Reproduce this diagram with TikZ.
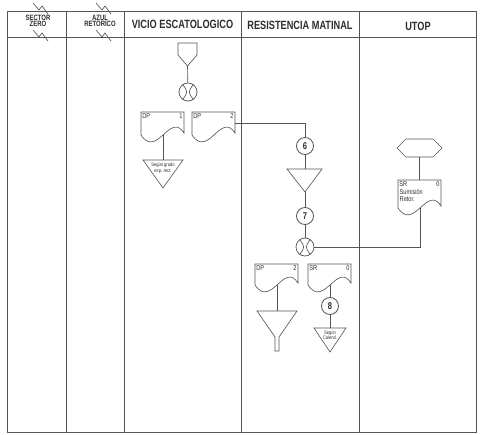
\documentclass[tikz,border=0pt]{standalone}
\usepackage{fontspec}
\usepackage{tikz}
\usetikzlibrary{calc}
\setmainfont{Liberation Sans}
\newfontfamily\headfont[FakeStretch=0.77]{Liberation Sans}
\newfontfamily\tagfont[FakeStretch=0.8]{Liberation Sans}
\definecolor{inkgray}{HTML}{2E2E2E}
\definecolor{rulegray}{HTML}{555555}

% document symbol: name, left x, top y, body height
\newcommand{\docsym}[4]{%
  \node[docbox, minimum height=#4*0.025cm] (#1) at (#2+21.5,#3+#4/2) {};
  \draw[flow] (#2,#3) -- ++(43,0) -- ++(0,#4-2)
    .. controls +(-14,-22) and +(16,24) .. (#2,#3+#4) -- cycle;
  \coordinate (#1b) at (#2+22,#3+#4);
}
% crossing arcs inside a merge circle
\newcommand{\mergex}[1]{%
  \draw[flow] (#1.125) .. controls (#1.center) and (#1.center) .. (#1.235);
  \draw[flow] (#1.55) .. controls (#1.center) and (#1.center) .. (#1.305);
}

\begin{document}
\begin{tikzpicture}[x=0.025cm, y=-0.025cm,
  rule/.style={draw=rulegray, line width=0.6pt},
  flow/.style={draw=rulegray, line width=0.45pt},
  docbox/.style={inner sep=0pt, minimum width=43*0.025cm},
  numcirc/.style={circle, draw=rulegray, line width=0.6pt, inner sep=0pt,
    minimum size=17*0.025cm, text=inkgray,
    font=\headfont\bfseries\fontsize{7}{7}\selectfont},
  mergecirc/.style={circle, draw=rulegray, line width=0.5pt, inner sep=0pt,
    minimum size=18*0.025cm},
  lanehead/.style={text=inkgray, font=\headfont\bfseries\fontsize{8.5}{9}\selectfont},
  smallhead/.style={text=inkgray, align=center, inner sep=0pt,
    font=\headfont\bfseries\fontsize{5.5}{4.5}\selectfont},
  tag/.style={text=inkgray, inner sep=1pt, font=\tagfont\fontsize{5}{5}\selectfont},
  note/.style={text=inkgray, align=center, inner sep=0pt,
    font=\tagfont\fontsize{3.6}{4}\selectfont}]
  \useasboundingbox[fill=white] (0,0) rectangle (480,434);

  % lanes
  \draw[rule] (7,11) rectangle (476,432);
  \draw[rule] (7,37) -- (476,37);
  \foreach \x in {66,124,241,359} \draw[rule] (\x,11) -- (\x,432);
  \foreach \x in {40,103} {
    \draw[flow] (\x-7,3) -- (\x-1,10) -- (\x+2,6) -- (\x+8,14);
    \draw[flow] (\x-7,30) -- (\x-1,37) -- (\x+2,33) -- (\x+8,41);
  }
  \node[smallhead] (hsz) at (38,21) {SECTOR\\ZERO};
  \node[smallhead] (haz) at (100,21) {AZUL\\RETORICO};
  \node[lanehead] (hve) at (182.5,24) {VICIO ESCATOLOGICO};
  \node[lanehead] (hrm) at (300,25) {RESISTENCIA MATINAL};
  \node[lanehead] (hut) at (418,26) {UTOP};

  % vicio escatologico
  \draw[flow] (178,43) -- (197,43) -- (197,55) -- (187.5,66) -- (178,55) -- cycle;
  \coordinate (offp) at (187.5,66);
  \node[mergecirc] (mg1) at (188,92) {};
  \mergex{mg1}
  \draw[flow] (offp) -- (mg1);

  \docsym{dp1}{141}{112}{23}
  \node[tag, anchor=north west] (dp1l) at (dp1.north west) {DP};
  \node[tag, anchor=north east] (dp1r) at (dp1.north east) {1};
  \docsym{dp2}{192}{112}{23}
  \node[tag, anchor=north west] (dp2l) at (dp2.north west) {DP};
  \node[tag, anchor=north east] (dp2r) at (dp2.north east) {2};

  \draw[flow] (143,160) -- (183,160) -- (163,188) -- cycle;
  \coordinate (tri1) at (163,160);
  \node[note] (tri1t) at (163,168) {Según grado\\esp. rect.};
  \draw[flow] (dp1b) -- (tri1);

  % resistencia matinal
  \node[numcirc] (c6) at (305,146) {6};
  \draw[flow] (dp2.east) -| (c6);
  \draw[flow] (287,169) -- (322,169) -- (305,192) -- cycle;
  \coordinate (tri2) at (305,169);
  \coordinate (tri2p) at (305,192);
  \draw[flow] (c6) -- (tri2);
  \node[numcirc] (c7) at (305,216) {7};
  \draw[flow] (tri2p) -- (c7);
  \node[mergecirc] (mg2) at (305,247) {};
  \mergex{mg2}
  \draw[flow] (c7) -- (mg2);

  \docsym{dp3}{255}{264}{21}
  \node[tag, anchor=north west] (dp3l) at (dp3.north west) {DP};
  \node[tag, anchor=north east] (dp3r) at (dp3.north east) {2};
  \draw[flow] (257,311) -- (297,311) -- (279,337) -- (279,351)
    -- (275,351) -- (275,337) -- cycle;
  \coordinate (fun) at (277,311);
  \draw[flow] (dp3b) -- (fun);

  \docsym{sr2}{308}{264}{21}
  \node[tag, anchor=north west] (sr2l) at (sr2.north west) {SR};
  \node[tag, anchor=north east] (sr2r) at (sr2.north east) {0};
  \node[numcirc] (c8) at (330,306) {8};
  \draw[flow] (sr2b) -- (c8);
  \draw[flow] (314,328) -- (346,328) -- (330,352) -- cycle;
  \coordinate (tri3) at (330,328);
  \node[note] (tri3t) at (330,335) {Según\\Calend.};
  \draw[flow] (c8) -- (tri3);

  % utop
  \draw[flow] (397,148) -- (406,139) -- (433,139) -- (442,148)
    -- (433,157) -- (406,157) -- cycle;
  \coordinate (hexb) at (419.5,157);
  \docsym{sr1}{398}{180}{28}
  \node[tag, anchor=north west] (sr1l) at (sr1.north west) {SR};
  \node[tag, anchor=north east] (sr1r) at (sr1.north east) {0};
  \node[tag, anchor=north west, align=left] (sr1t) at (398,188) {Sumisión\\Retor.};
  \draw[flow] (hexb) -- (sr1.north);
  \draw[flow] (mg2) -| (sr1b);
\end{tikzpicture}
\end{document}
